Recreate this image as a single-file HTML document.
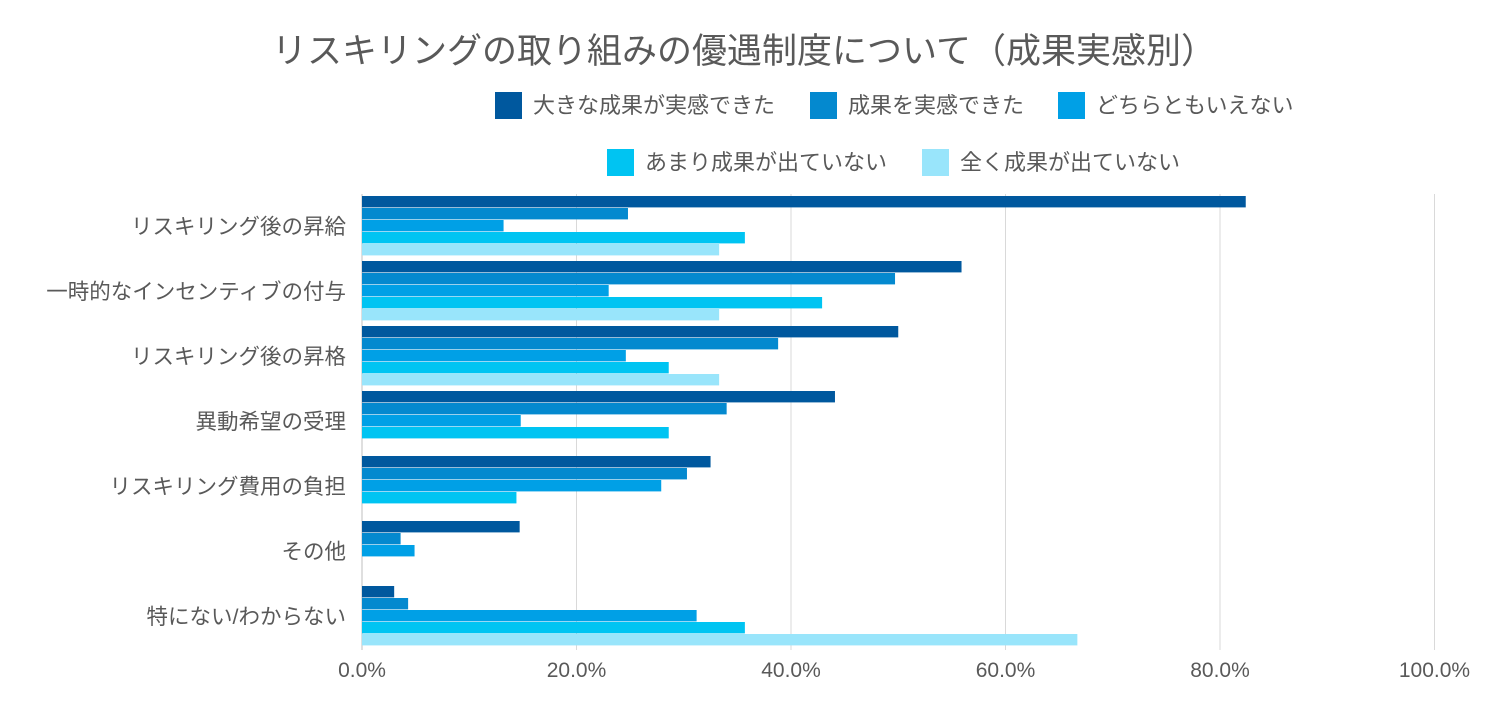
<!DOCTYPE html>
<html><head><meta charset="utf-8">
<style>
body{margin:0;width:1500px;height:700px;background:#fff;overflow:hidden;font-family:"Liberation Sans","Noto Sans CJK JP",sans-serif;}
svg text{font-family:"Liberation Sans","Noto Sans CJK JP",sans-serif;fill:#595959;}
</style></head><body>
<svg id="chart" width="1500" height="700">
<text x="744" y="63" font-size="35" text-anchor="middle">リスキリングの取り組みの優遇制度について（成果実感別）</text>
<g id="grid"></g><g id="bars"></g><g id="labels"></g><g id="legend"></g>
</svg>
<script>
const categories=["リスキリング後の昇給","一時的なインセンティブの付与","リスキリング後の昇格","異動希望の受理","リスキリング費用の負担","その他","特にない/わからない"];
const seriesNames=["大きな成果が実感できた","成果を実感できた","どちらともいえない","あまり成果が出ていない","全く成果が出ていない"];
const s1=[82.4,55.9,50.0,44.1,32.5,14.7,3.0];
const s2=[24.8,49.7,38.8,34.0,30.3,3.6,4.3];
const s3=[13.2,23.0,24.6,14.8,27.9,4.9,31.2];
const s4=[35.7,42.9,28.6,28.6,14.4,0,35.7];
const s5=[33.3,33.3,33.3,0,0,0,66.7];
const ticks=[0,20,40,60,80,100];
const series=[s1,s2,s3,s4,s5];
const colors=["#00589e","#0489cf","#00a0e6","#00c4f2","#99e5fb"];
const NS="http://www.w3.org/2000/svg";
const x0=362,x1=1434.5,top0=196,groupH=65,barH=11.4,barStep=12;
const xs=v=>x0+(x1-x0)*v/100;
function mk(tag,attrs,parent){const e=document.createElementNS(NS,tag);for(const k in attrs)e.setAttribute(k,attrs[k]);parent.appendChild(e);return e;}
const grid=document.getElementById('grid'),bars=document.getElementById('bars'),labels=document.getElementById('labels'),legend=document.getElementById('legend');
ticks.forEach(t=>{
 const l=mk('line',{x1:xs(t),x2:xs(t),y1:194,y2:650,stroke:t===0?'#bfbfbf':'#d9d9d9','stroke-width':1},grid);
 
 
 const tx=mk('text',{x:xs(t),y:677,'font-size':21,'text-anchor':'middle'},labels);
 tx.textContent=t.toFixed(1)+'%';
 
 
});
categories.forEach((c,i)=>{
 const gy=top0+i*groupH;
 series.forEach((s,j)=>{
  if(s[i]<=0)return;
  const r=mk('rect',{x:x0,y:gy+j*barStep,width:xs(s[i])-x0,height:barH,fill:colors[j]},bars);
  
  
 });
 const tx=mk('text',{x:346,y:gy+38,'font-size':21.5,'text-anchor':'end'},labels);
 tx.textContent=c;
 
 
});
const lpos=[[495,105],[810,105],[1058,105],[607,162],[922,162]];
seriesNames.forEach((n,j)=>{
 const r=mk('rect',{x:lpos[j][0],y:lpos[j][1]-13,width:27,height:27,fill:colors[j]},legend);
 
 
 const t=mk('text',{x:lpos[j][0]+38,y:lpos[j][1]+8,'font-size':22},legend);
 t.textContent=n;
 
 
});
</script>
</body></html>
